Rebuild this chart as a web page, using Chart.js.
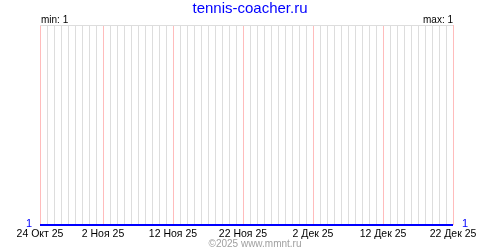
<!DOCTYPE html>
<html>
<head>
<meta charset="utf-8">
<script src="https://cdn.jsdelivr.net/npm/chart.js@4"></script>
<style>
  body { margin: 0; background: #fff; }
  #box { width: 500px; height: 250px; }
</style>
</head>
<body>
<div id="box"><canvas id="myChart" width="500" height="250"></canvas></div>
<script>
// данные графика: один замер в день, 24 Окт 25 .. 22 Дек 25
const siteName = 'tennis-coacher.ru';
const footerText = '©2025 www.mmnt.ru';
const tickDays = [0, 9, 19, 29, 39, 49, 59];
const tickLabels = ['24 Окт 25', '2 Ноя 25', '12 Ноя 25', '22 Ноя 25', '2 Дек 25', '12 Дек 25', '22 Дек 25'];
const values = [
  1, 1, 1, 1, 1, 1, 1, 1, 1, 1,
  1, 1, 1, 1, 1, 1, 1, 1, 1, 1,
  1, 1, 1, 1, 1, 1, 1, 1, 1, 1,
  1, 1, 1, 1, 1, 1, 1, 1, 1, 1,
  1, 1, 1, 1, 1, 1, 1, 1, 1, 1,
  1, 1, 1, 1, 1, 1, 1, 1, 1, 1
];
const minVal = Math.min(...values);
const maxVal = Math.max(...values);

let labelsPlugin = {
  id: 'labels',
  afterDraw: (chart) => {
    const ctx = chart.ctx;
    const area = chart.chartArea;
    const y = chart.scales.y;
    ctx.save();

    // верхняя граница
    ctx.strokeStyle = '#dddddd';
    ctx.lineWidth = 1;
    ctx.beginPath();
    ctx.moveTo(area.left, area.top + 0.5);
    ctx.lineTo(area.right, area.top + 0.5);
    ctx.stroke();

    ctx.font = '15px "Liberation Sans", Arial, sans-serif';
    ctx.fillStyle = '#0000ff';
    ctx.textAlign = 'center';
    ctx.textBaseline = 'alphabetic';
    ctx.fillText(siteName, 250, 13);

    ctx.font = '10px "Liberation Sans", Arial, sans-serif';
    ctx.fillStyle = '#000000';
    ctx.textAlign = 'left';
    ctx.fillText('min: ' + minVal, area.left + 1, area.top - 2);
    ctx.textAlign = 'right';
    ctx.fillText('max: ' + maxVal, area.right, area.top - 2);

    // подписи значений по краям линии
    let py = y.getPixelForValue(values[0]);
    ctx.fillStyle = '#0000ff';
    ctx.font = '11px "Liberation Sans", Arial, sans-serif';
    ctx.textBaseline = 'middle';
    ctx.textAlign = 'right';
    ctx.fillText(String(values[0]), area.left - 8, py - 1);
    py = y.getPixelForValue(values[values.length - 1]);
    ctx.textAlign = 'left';
    ctx.fillText(String(values[values.length - 1]), area.right + 9, py - 1);

    ctx.font = '10px "Liberation Sans", Arial, sans-serif';
    ctx.fillStyle = '#a0a0a0';
    ctx.textAlign = 'center';
    ctx.textBaseline = 'alphabetic';
    ctx.fillText(footerText, 255, 247);
    ctx.restore();
  }
};

const dataset = {
  datasets: [{
    data: values.map((v, i) => ({ x: i, y: v })),
    xAxisID: 'x',
    borderColor: '#0000ff',
    borderWidth: 2,
    pointRadius: 0,
    fill: false,
    tension: 0,
    clip: false
  }]
};

const config = {
  type: 'line',
  data: dataset,
  options: {
    responsive: false,
    animation: false,
    layout: { padding: { left: 40, right: 47, top: 25, bottom: 0 } },
    plugins: { legend: { display: false }, tooltip: { enabled: false } },
    scales: {
      // серая сетка по дням
      x: {
        type: 'linear',
        position: 'bottom',
        z: -1,
        min: 0,
        max: values.length - 1,
        afterFit: (s) => { s.height = 0; },
        border: { display: false },
        grid: { drawTicks: false, color: '#dddddd' },
        ticks: { display: false, stepSize: 1, maxTicksLimit: 100, autoSkip: false }
      },
      // розовые линии и подписи дат
      days: {
        type: 'linear',
        position: 'bottom',
        z: 0,
        min: 0,
        max: values.length - 1,
        afterBuildTicks: (s) => { s.ticks = tickDays.map(v => ({ value: v })); },
        afterFit: (s) => { s.height = 25; },
        border: { display: false },
        grid: { drawTicks: false, color: '#ffbcbc' },
        ticks: {
          autoSkip: false,
          maxRotation: 0,
          padding: 3,
          color: '#000000',
          font: { family: '"Liberation Sans", Arial, sans-serif', size: 10.5 },
          callback: (v, i) => tickLabels[i]
        }
      },
      y: {
        display: false,
        min: minVal,
        max: minVal + 1
      }
    }
  },
  plugins: [labelsPlugin]
};

const chart = new Chart(document.getElementById('myChart'), config);
</script>
</body>
</html>
